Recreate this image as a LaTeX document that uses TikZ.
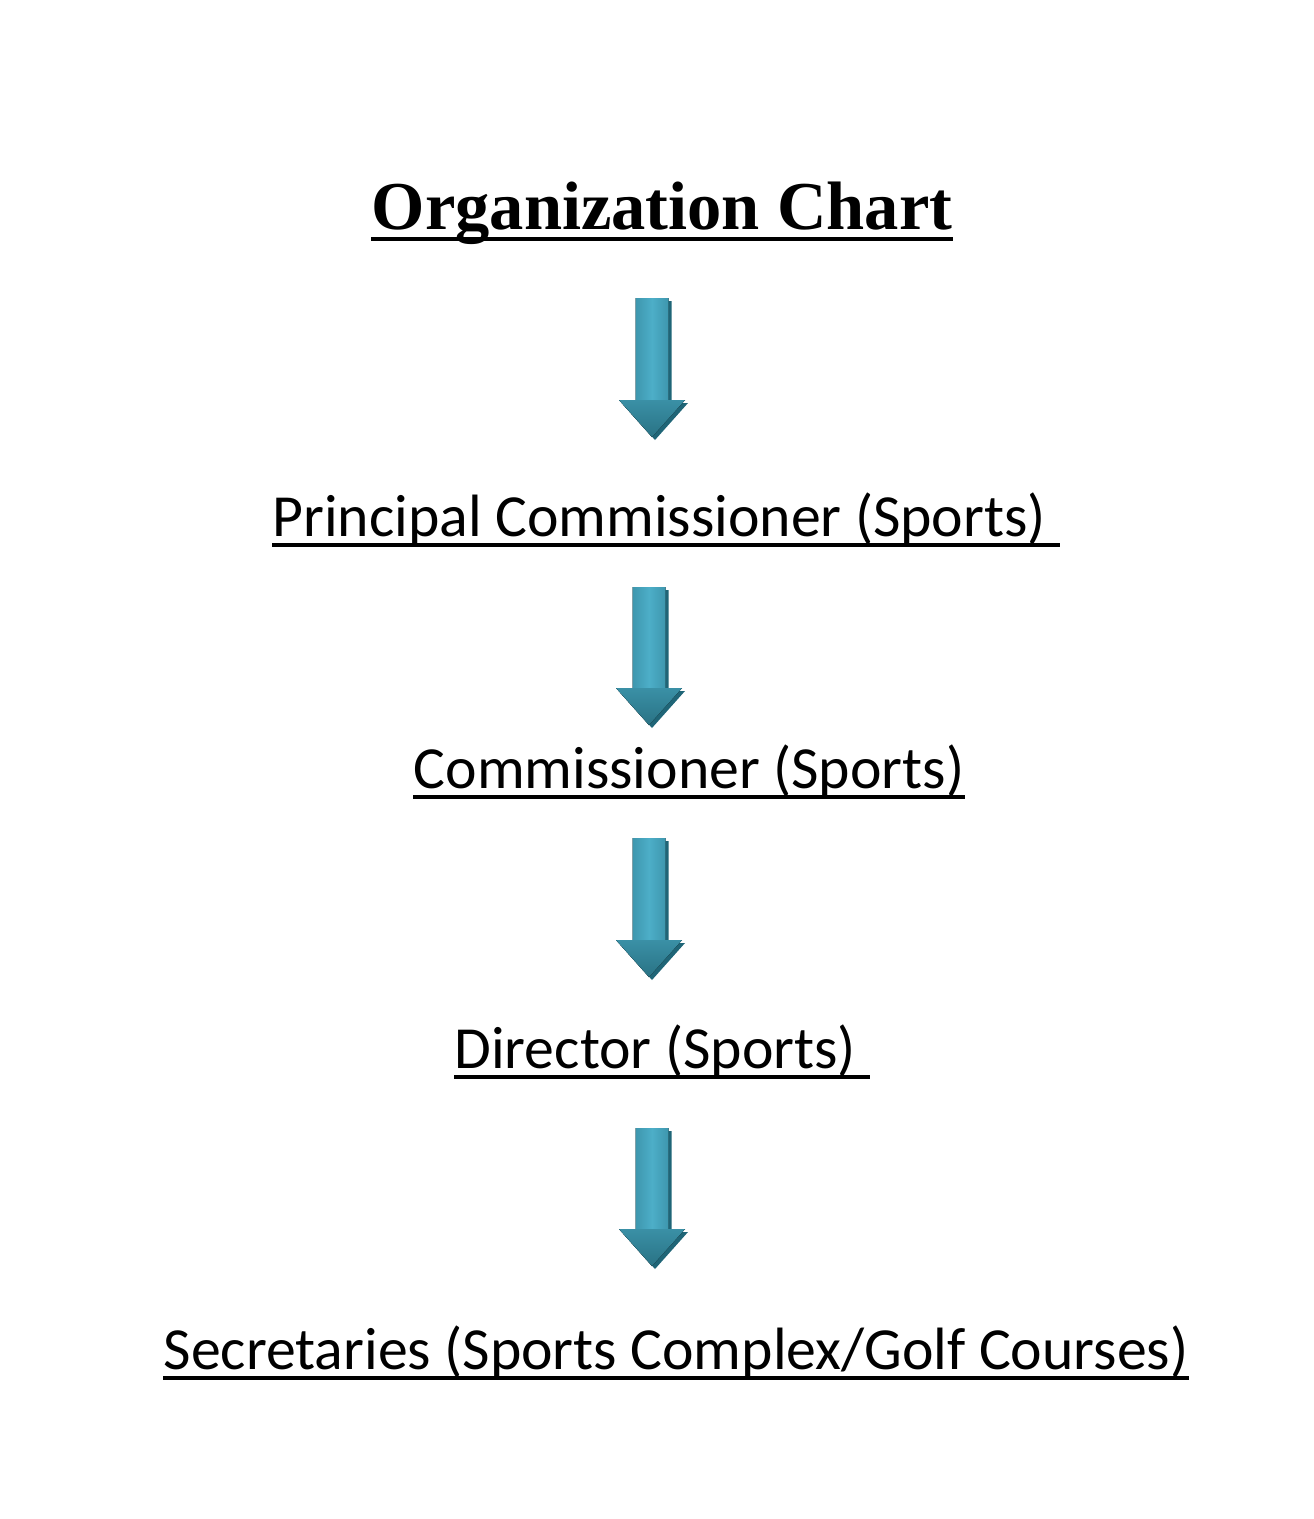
\documentclass[tikz,border=0pt]{standalone}
\usepackage{fontspec}
\setmainfont{Carlito}
\newfontfamily\titlefont{Liberation Serif}

\definecolor{tealdark}{HTML}{1F6577}
\definecolor{tealedge}{HTML}{2E7F93}
\definecolor{teallight}{HTML}{4DAEC8}
\definecolor{tealhead}{HTML}{3A90A6}

\tikzset{
    rank/.style={anchor=base, inner sep=0pt, font=\fontsize{34}{41}\selectfont},
    uline/.style={line width=2.3pt},
    shaft/.style={left color=tealedge, right color=tealedge, middle color=teallight},
    headfill/.style={top color=tealhead, bottom color=tealedge!90!black},
    shadow/.style={fill=tealdark}
}

% block arrow from top coordinate #1 to tip coordinate #2
\newcommand{\blockarrow}[2]{%
    \foreach \s/\st in {3/shadow, 0/shaft} {
        \fill[\st]
            ([shift={(\s-16.5,\s)}]#1) -- ([shift={(\s+16.5,\s)}]#1)
            -- ([shift={(\s+16.5,\s-37)}]#2) -- ([shift={(\s+33,\s-37)}]#2)
            -- ([shift={(\s,\s)}]#2) -- ([shift={(\s-33,\s-37)}]#2)
            -- ([shift={(\s-16.5,\s-37)}]#2) -- cycle;
    }
    \fill[headfill] ([shift={(-33,-37)}]#2) -- ([shift={(33,-37)}]#2) -- (#2) -- cycle;
}

\begin{document}
\begin{tikzpicture}[x=0.02cm, y=-0.02cm]
    \useasboundingbox (0,0) rectangle (1314,1519);

    \node[anchor=base, inner sep=0pt, font=\titlefont\bfseries\fontsize{39}{46}\selectfont]
        (title) at (662,229) {Organization Chart};
    \node[rank] (principal) at (666,536) {Principal Commissioner (Sports)\ \mbox{}};
    \node[rank] (commissioner) at (689,788) {Commissioner (Sports)};
    \node[rank] (director) at (662,1068) {Director (Sports)\ \mbox{}};
    \node[rank] (secretaries) at (676,1369) {Secretaries (Sports Complex/Golf Courses)};

    \draw[line width=2.8pt] ([shift={(0,10)}]title.base west) -- ([shift={(0,10)}]title.base east);
    \foreach \k in {principal, commissioner, director, secretaries}
        \draw[uline] ([shift={(0,9)}]\k.base west) -- ([shift={(0,9)}]\k.base east);

    \foreach \k/\xc/\yt/\yp in {1/652/298/437, 2/649/587/725, 3/649/838/977, 4/652/1128/1266} {
        \coordinate (top\k) at (\xc,\yt);
        \coordinate (tip\k) at (\xc,\yp);
        \blockarrow{top\k}{tip\k}
    }
\end{tikzpicture}
\end{document}
